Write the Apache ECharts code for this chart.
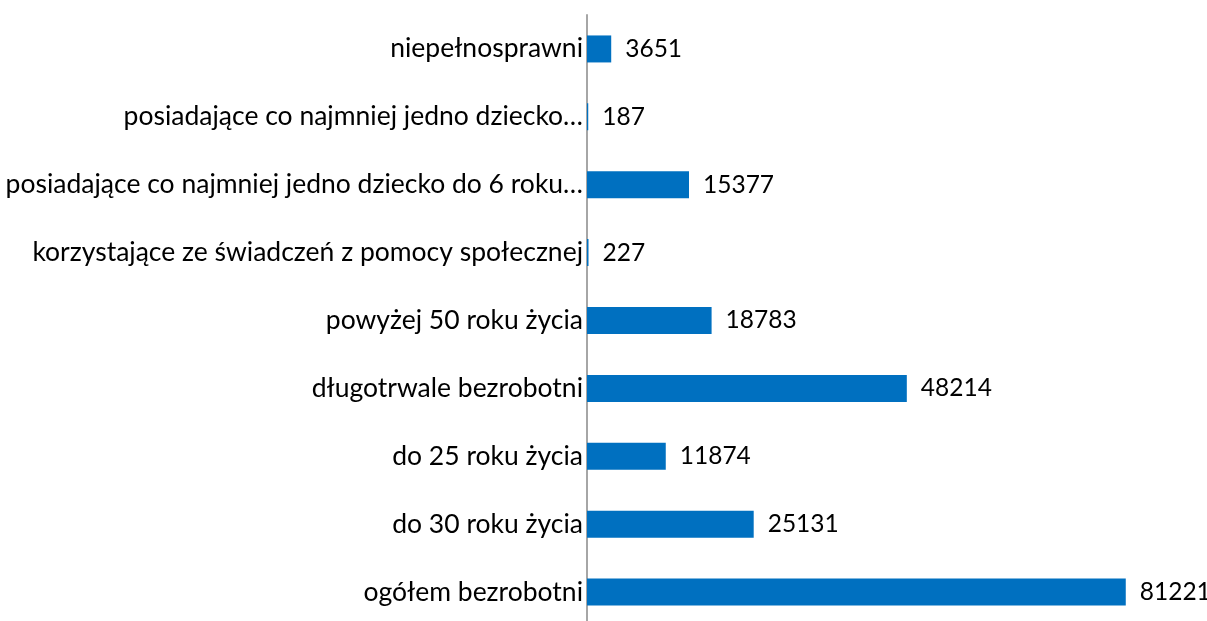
<!DOCTYPE html>
<html>
<head>
<meta charset="utf-8">
<script src="https://cdn.jsdelivr.net/npm/echarts@6/dist/echarts.min.js"></script>
<style>
  html, body { margin: 0; padding: 0; background: #fff; }
  #chart { width: 1207px; height: 621px; }
</style>
</head>
<body>
<div id="chart"></div>
<script>
// kategorie od dołu do góry (oś kategorii w ECharts rośnie w górę)
const categories = [
  "ogółem bezrobotni",
  "do 30 roku życia",
  "do 25 roku życia",
  "długotrwale bezrobotni",
  "powyżej 50 roku życia",
  "korzystające ze świadczeń z pomocy społecznej",
  "posiadające co najmniej jedno dziecko do 6 roku…",
  "posiadające co najmniej jedno dziecko…",
  "niepełnosprawni"
];
const values = [81221, 25131, 11874, 48214, 18783, 227, 15377, 187, 3651];

const FONT = "Lato";

const chart = echarts.init(document.getElementById("chart"));
chart.setOption({
  animation: false,
  backgroundColor: "#fff",
  grid: {
    left: 587,
    width: 597,
    top: 15,
    bottom: -5,
    containLabel: false,
    outerBoundsMode: "none"
  },
  xAxis: {
    type: "value",
    min: 0,
    max: 90000,
    show: false
  },
  yAxis: {
    type: "category",
    data: categories,
    axisLine: { show: true, lineStyle: { color: "#A6A6A6", width: 2 } },
    axisTick: { show: false },
    axisLabel: {
      color: "#000",
      fontFamily: FONT,
      fontSize: 26.5,
      margin: 4
    }
  },
  series: [
    {
      type: "bar",
      data: values,
      barWidth: 27,
      itemStyle: { color: "#0070C0" },
      label: {
        show: true,
        position: "right",
        distance: 14,
        color: "#000",
        fontFamily: FONT,
        fontSize: 24.5
      }
    }
  ]
});
</script>
</body>
</html>
